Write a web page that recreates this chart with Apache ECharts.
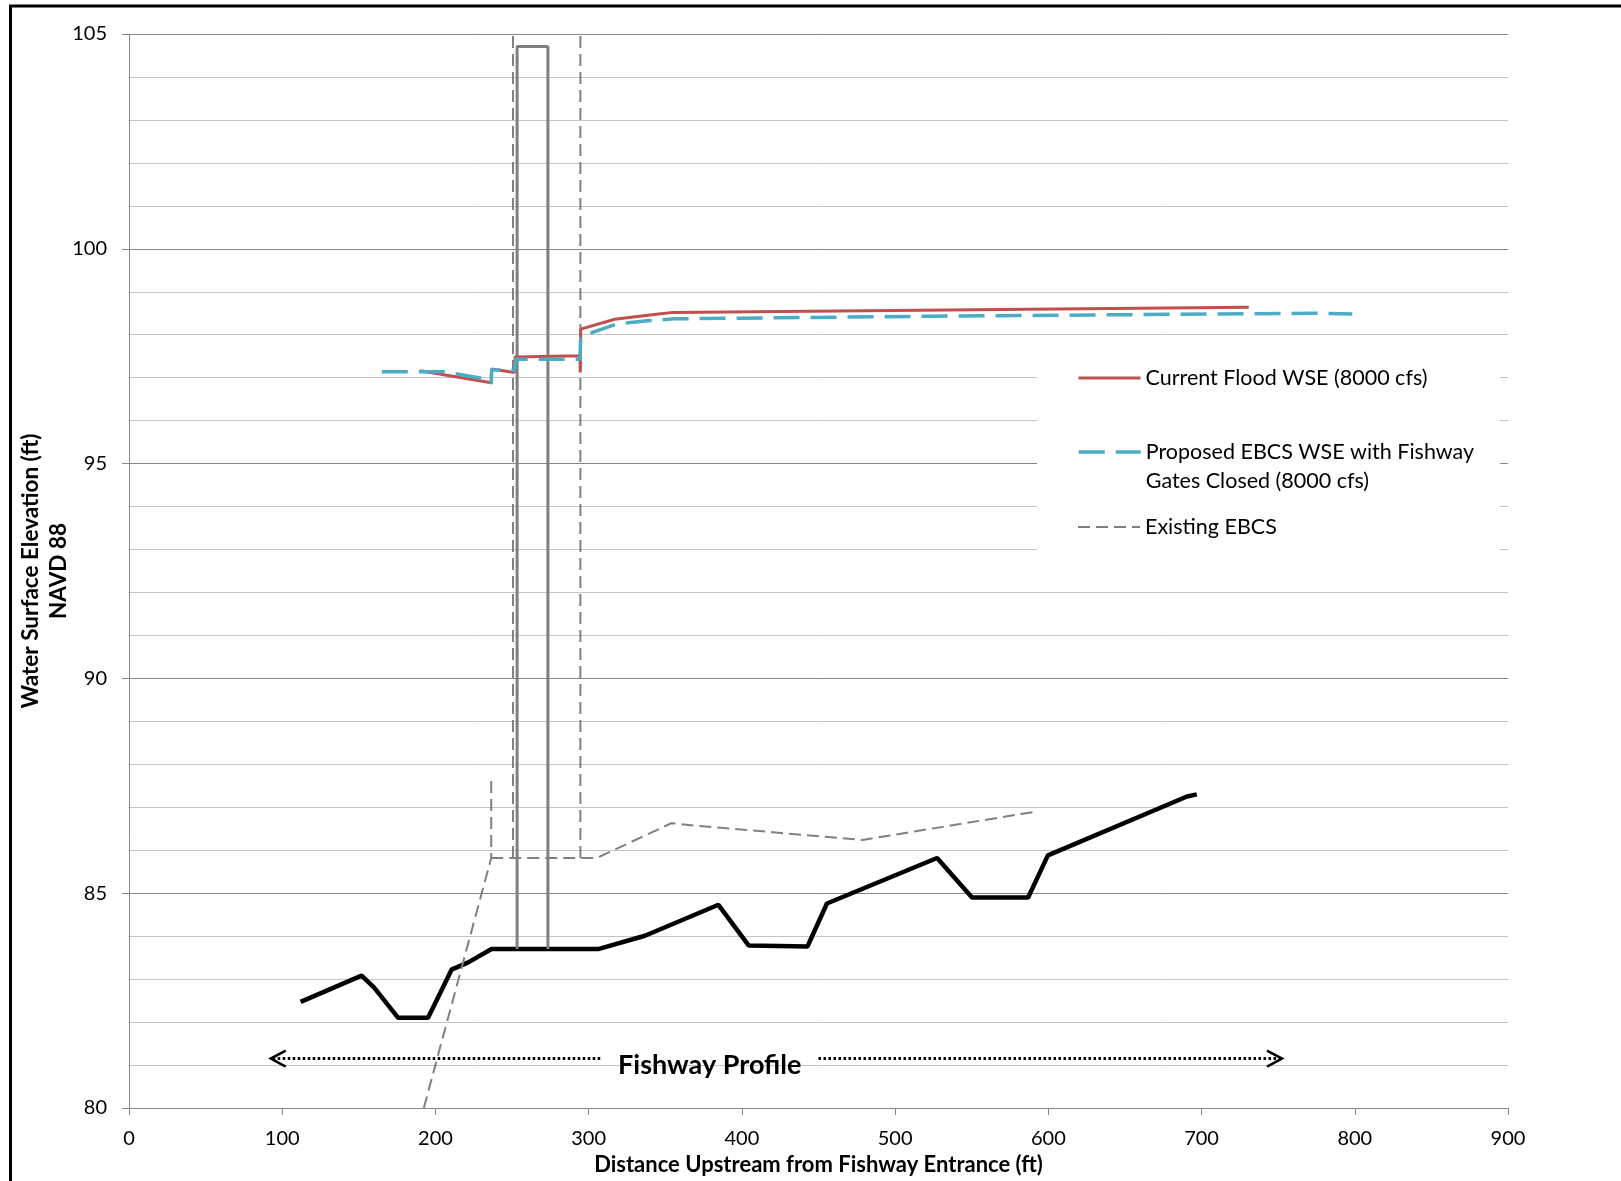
<!DOCTYPE html>
<html>
<head>
<meta charset="utf-8">
<title>Fishway Profile - Water Surface Elevation</title>
<script src="https://cdn.jsdelivr.net/npm/echarts@6/dist/echarts.min.js"></script>
<style>
    html, body { margin: 0; padding: 0; background: #fff; }
    #chart { width: 1621px; height: 1181px; }
</style>
</head>
<body>
<div id="chart"></div>
<script>
(function () {
    'use strict';

    /* -- Data: distance upstream (ft) / elevation (ft, NAVD 88). '-' breaks a line. -- */

    var groundDist = [112, 151.8, 160, 175.7, 195.2, 210.5, 221.4, 236.6, 306.2, 336.7, 384.7,
        404.5, 442.8, 455.5, 527.4, 550.2, 586.8, 599.7, 690.5, 696.9];
    var groundElev = [82.47, 83.08, 82.8, 82.1, 82.1, 83.22, 83.39, 83.70, 83.70, 84.01, 84.73,
        83.78, 83.76, 84.76, 85.82, 84.9, 84.9, 85.88, 87.25, 87.30];

    var gateDist = [253.3, 253.3, 273.4, 273.4];
    var gateElev = [83.7, 104.71, 104.71, 83.7];

    var existingDist = [192.4, 236.4, 236.4, '-', 236.4, 305.4, 354, 370.4, 478.9, 590.3,
        '-', 250.6, 250.6, '-', 294.6, 294.6];
    var existingElev = [80, 85.82, 87.72, '-', 85.82, 85.82, 86.63, 86.57, 86.24, 86.89,
        '-', 85.82, 105, '-', 85.82, 105];

    var currentDist = [190, 236.4, 236.6, 251.5, 252, 294.3, 294.5, 294.8, 317, 340, 355, 730.8];
    var currentElev = [97.16, 96.88, 97.2, 97.12, 97.48, 97.51, 97.12, 98.13, 98.36, 98.46, 98.52, 98.64];

    var proposedDist = [165, 205, 236.2, 236.4, 236.7, 251.5, 252.5, 294.3, 294.8, 303, 318.2,
        340, 355.6, 523, 772.7, 798.4];
    var proposedElev = [97.14, 97.14, 96.95, 96.85, 97.18, 97.17, 97.43, 97.43, 97.95, 98.06, 98.25,
        98.33, 98.37, 98.43, 98.50, 98.48];

    // Fishway Profile annotation (data units)
    var fishwayArrow = { from: 92.5, to: 752.5, gapFrom: 308.5, gapTo: 450, label: 379, elev: 81.15 };

    var NAME_CURRENT = 'Current Flood WSE (8000 cfs)';
    var NAME_PROPOSED = 'Proposed EBCS WSE with Fishway Gates Closed (8000 cfs)';
    var NAME_EXISTING = 'Existing EBCS';

    var FONT = 'Lato';
    var GRID_MAJOR = '#868686';
    var GRID_MINOR = '#c4c4c4';

    function zip(xs, ys) {
        return xs.map(function (x, i) { return [x, ys[i]]; });
    }

    function lineSeries(name, xs, ys, color, width, dash) {
        return {
            type: 'line', name: name, data: zip(xs, ys),
            symbol: 'none', silent: true, animation: false,
            lineStyle: { color: color, width: width, type: dash || 'solid', cap: 'butt' },
            itemStyle: { color: color }
        };
    }

    /** One legend box per entry so each sits exactly where the original does. */
    function legendAt(name, top, width, formatter) {
        return {
            data: [name],
            left: 1077, top: top, padding: 0, orient: 'vertical',
            itemWidth: 62, itemHeight: 14, selectedMode: false,
            formatter: formatter,
            itemStyle: { opacity: 0 },
            lineStyle: { width: width },
            textStyle: { fontFamily: FONT, fontSize: 21.5, color: '#000', lineHeight: 29 }
        };
    }

    var chart = echarts.init(document.getElementById('chart'));

    chart.setOption({
        animation: false,
        backgroundColor: '#fff',
        grid: { left: 129, right: 113, top: 34, bottom: 73 },
        legend: [
            legendAt(NAME_CURRENT, 363.5, 3),
            // leading blank line keeps the icon level with the first text line
            legendAt(NAME_PROPOSED, 408.5, 3.5, function () {
                return '\nProposed EBCS WSE with Fishway\nGates Closed (8000 cfs)';
            }),
            legendAt(NAME_EXISTING, 512.5, 2)
        ],
        xAxis: {
            type: 'value', min: 0, max: 900, interval: 100,
            name: 'Distance Upstream from Fishway Entrance (ft)',
            nameLocation: 'middle', nameGap: 45,
            nameTextStyle: { fontFamily: FONT, fontWeight: 'bold', fontSize: 22, color: '#000' },
            axisLine: { onZero: false, lineStyle: { color: GRID_MAJOR } },
            axisTick: { show: true, length: 7, lineStyle: { color: GRID_MAJOR } },
            axisLabel: { fontFamily: FONT, fontSize: 20, color: '#000', margin: 21 },
            splitLine: { show: false }
        },
        yAxis: {
            type: 'value', min: 80, max: 105, interval: 5,
            name: 'Water Surface Elevation (ft)\nNAVD 88',
            nameLocation: 'middle', nameGap: 56, nameRotate: 90,
            nameMoveOverlap: false,
            nameTextStyle: {
                fontFamily: FONT, fontWeight: 'bold', fontSize: 22.5, color: '#000',
                lineHeight: 28, align: 'center'
            },
            axisLine: { show: true, lineStyle: { color: GRID_MAJOR } },
            axisTick: { show: true, length: 7, lineStyle: { color: GRID_MAJOR } },
            axisLabel: { fontFamily: FONT, fontSize: 20, color: '#000', margin: 22 },
            splitLine: { show: true, lineStyle: { color: GRID_MAJOR, width: 1 } },
            minorTick: { show: false, splitNumber: 5 },
            minorSplitLine: { show: true, lineStyle: { color: GRID_MINOR, width: 1 } }
        },
        series: [
            lineSeries('Ground', groundDist, groundElev, '#000', 4.5),
            lineSeries('Gate', gateDist, gateElev, '#7f7f7f', 3),
            lineSeries(NAME_EXISTING, existingDist, existingElev, '#808080', 2, [12, 6]),
            lineSeries(NAME_CURRENT, currentDist, currentElev, '#c0504d', 3),
            lineSeries(NAME_PROPOSED, proposedDist, proposedElev, '#4bacc6', 3.5, [26, 11])
        ]
    });

    /* -- Annotations: legend backdrop, outer frame, Fishway Profile arrow -- */

    function px(x, y) {
        return chart.convertToPixel({ xAxisIndex: 0, yAxisIndex: 0 }, [x, y]);
    }

    var a = fishwayArrow;
    var tipL = px(a.from, a.elev), tipR = px(a.to, a.elev);
    var gapL = px(a.gapFrom, a.elev), gapR = px(a.gapTo, a.elev);
    var labelPos = px(a.label, a.elev);
    var dotted = { stroke: '#000', lineWidth: 3, lineDash: [2.5, 2.5], fill: null };
    var chevron = { stroke: '#000', lineWidth: 2.5, fill: null };

    chart.setOption({
        graphic: [
            { type: 'rect', z: 1, silent: true,
              shape: { x: 1037, y: 350, width: 463, height: 218 },
              style: { fill: '#fff' } },
            { type: 'rect', z: 10, silent: true,
              shape: { x: 10.5, y: 6, width: 1700, height: 1300 },
              style: { fill: null, stroke: '#000', lineWidth: 3 } },
            { type: 'line', z: 5, silent: true,
              shape: { x1: tipL[0] + 2, y1: tipL[1], x2: gapL[0], y2: gapL[1] }, style: dotted },
            { type: 'line', z: 5, silent: true,
              shape: { x1: gapR[0], y1: gapR[1], x2: tipR[0] - 2, y2: tipR[1] }, style: dotted },
            { type: 'polyline', z: 5, silent: true,
              shape: { points: [[tipL[0] + 15, tipL[1] - 8], tipL, [tipL[0] + 15, tipL[1] + 8]] },
              style: chevron },
            { type: 'polyline', z: 5, silent: true,
              shape: { points: [[tipR[0] - 15, tipR[1] - 8], tipR, [tipR[0] - 15, tipR[1] + 8]] },
              style: chevron },
            { type: 'text', z: 5, silent: true,
              style: {
                  text: 'Fishway Profile', x: labelPos[0], y: labelPos[1] + 7,
                  align: 'center', verticalAlign: 'middle',
                  fontFamily: FONT, fontWeight: 'bold', fontSize: 27, fill: '#000'
              } }
        ]
    });
})();
</script>
</body>
</html>
